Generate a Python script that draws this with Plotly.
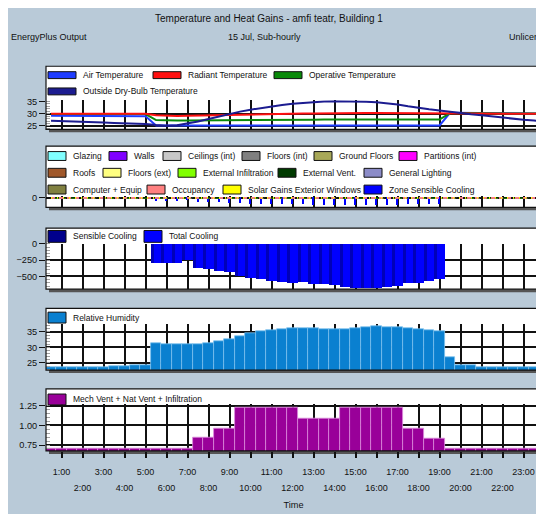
import plotly.graph_objects as go

W, H = 544, 514

# ---------------- data ----------------
time_h = [i / 2 for i in range(1, 49)]  # 0:30 ... 24:00 (sub-hourly, 2 per hour)
hour_ticks = list(range(1, 24))
hour_labels = [f"{h}:00" for h in hour_ticks]

temp_names = ["Air Temperature", "Radiant Temperature", "Operative Temperature",
              "Outside Dry-Bulb Temperature"]
air_temperature = [29.1, 29.1, 29.0, 29.0, 29.0, 29.0, 28.9, 28.9, 28.9, 28.9,
                   25.2, 25.2, 25.2, 25.2, 25.2, 25.2, 25.2, 25.2, 25.2, 25.2,
                   25.2, 25.2, 25.2, 25.2, 25.2, 25.2, 25.2, 25.2, 25.2, 25.2,
                   25.2, 25.2, 25.2, 25.2, 25.2, 25.2, 25.2, 25.2,
                   30.3, 30.3, 30.2, 30.2, 30.2, 30.1, 30.1, 30.1, 30.0, 30.0]
radiant_temperature = [29.9, 29.9, 29.9, 29.9, 29.9, 29.9, 29.9, 29.9, 29.9, 29.9,
                       29.3, 29.1, 29.0, 29.1, 29.2, 29.3, 29.4, 29.5, 29.6, 29.7,
                       29.8, 29.8, 29.9, 29.9, 30.0, 30.0, 30.1, 30.1, 30.1, 30.2,
                       30.2, 30.2, 30.2, 30.1, 30.1, 30.1, 30.0, 30.0,
                       30.0, 30.0, 30.0, 29.9, 29.9, 29.9, 29.9, 29.9, 29.9, 29.9]
operative_temperature = [29.8, 29.8, 29.8, 29.8, 29.8, 29.8, 29.8, 29.8, 29.8, 29.8,
                         27.4, 27.2, 27.2, 27.2, 27.2, 27.3, 27.3, 27.3, 27.4, 27.4,
                         27.4, 27.5, 27.5, 27.5, 27.5, 27.5, 27.6, 27.6, 27.6, 27.6,
                         27.6, 27.6, 27.6, 27.6, 27.6, 27.6, 27.6, 27.6,
                         30.2, 30.2, 30.2, 30.1, 30.1, 30.1, 30.0, 30.0, 30.0, 30.0]
outside_drybulb = [27.1, 27.0, 26.8, 26.7, 26.5, 26.4, 26.2, 26.1, 26.0, 25.8,
                   25.4, 25.1, 25.3, 25.9, 26.8, 27.8, 28.9, 29.9, 30.8, 31.6,
                   32.3, 32.9, 33.5, 34.0, 34.4, 34.7, 34.9, 35.0, 35.0, 35.0,
                   34.8, 34.6, 34.2, 33.7, 33.0, 32.3, 31.8, 31.3,
                   30.7, 30.2, 29.7, 29.3, 28.8, 28.3, 27.9, 27.5, 27.2, 26.9]

gain_names = ["Glazing", "Walls", "Ceilings (int)", "Floors (int)", "Ground Floors",
              "Partitions (int)", "Roofs", "Floors (ext)", "External Infiltration",
              "External Vent.", "General Lighting", "Computer + Equip", "Occupancy",
              "Solar Gains Exterior Windows", "Zone Sensible Cooling"]
zero_gain = [0.0] * 48   # all fabric / internal gains read as ~0 on this scale
zone_sensible_cooling = [0, 0, 0, 0, 0, 0, 0, 0, 0, 0,
                         -293, -293, -293, -252, -362, -387, -422, -437, -488, -516,
                         -543, -566, -584, -596, -588, -610, -620, -636, -658, -670,
                         -672, -670, -660, -646, -598, -594, -570, -545,
                         0, 0, 0, 0, 0, 0, 0, 0, 0, 0]

cooling_names = ["Sensible Cooling", "Total Cooling"]
sensible_cooling = [0, 0, 0, 0, 0, 0, 0, 0, 0, 0,
                    -293, -293, -293, -252, -362, -387, -422, -437, -488, -516,
                    -543, -566, -584, -596, -588, -610, -620, -636, -658, -670,
                    -672, -670, -660, -646, -598, -594, -570, -545,
                    0, 0, 0, 0, 0, 0, 0, 0, 0, 0]
total_cooling = [0, 0, 0, 0, 0, 0, 0, 0, 0, 0,
                 -293, -293, -293, -252, -362, -387, -422, -437, -488, -516,
                 -543, -566, -584, -596, -588, -610, -620, -636, -658, -670,
                 -672, -670, -660, -646, -598, -594, -570, -545,
                 0, 0, 0, 0, 0, 0, 0, 0, 0, 0]

rh_name = "Relative Humidity"
relative_humidity = [23.5, 23.5, 23.5, 23.5, 23.6, 23.6, 23.8, 23.9, 24.2, 24.4,
                     31.5, 31.2, 31.2, 31.2, 31.2, 31.5, 31.9, 32.6, 33.6, 34.6,
                     35.2, 35.6, 35.9, 36.3, 36.1, 36.1, 35.9, 35.8, 35.9, 36.3,
                     36.5, 36.7, 36.6, 36.5, 36.2, 36.0, 35.6, 35.3,
                     27.0, 24.4, 24.3, 23.7, 23.6, 23.6, 23.6, 23.6, 23.6, 23.6]

vent_name = "Mech Vent + Nat Vent + Infiltration"
ventilation = [0.71, 0.71, 0.71, 0.71, 0.71, 0.71, 0.71, 0.71, 0.71, 0.71,
               0.70, 0.70, 0.70, 0.70, 0.84, 0.84, 0.96, 0.96,
               1.23, 1.23, 1.23, 1.23, 1.23, 1.23,
               1.09, 1.09, 1.09, 1.09,
               1.23, 1.23, 1.23, 1.23, 1.23, 1.23,
               0.96, 0.96, 0.83, 0.83,
               0.71, 0.71, 0.71, 0.71, 0.71, 0.71, 0.71, 0.71, 0.71, 0.71]

# ---------------- styles ----------------
FONT = "Liberation Sans, Arial, sans-serif"
TXT = 8.5
BG = "#b9cad8"
temp_colors = ["#1e3cff", "#ff1010", "#0a8a0a", "#1c1c90"]
gain_colors = ["#80ffff", "#8000ff", "#c8c8c8", "#808080", "#a8a858", "#ff00ff",
               "#a0582a", "#ffff80", "#80ff00", "#003a00", "#8c8cc8", "#808040",
               "#ff8080", "#ffff00", "#0000ff"]
cooling_colors = ["#00008c", "#0000ff"]
rh_color = "#0a80d0"
vent_color = "#990099"

# page coordinates (the page body adds an 8 px margin around the figure)
OFF = 8
X0, X1 = 46, 541                # plot left/right in page px
panels = [  # frame top, plot top, plot bottom (page px)
    (62, 96.5, 126),
    (143, 194, 205),
    (226, 242, 288),
    (307.5, 323.5, 370),
    (389, 404, 452),
]
XR = [0.26, 23.83]


def fx(px):
    return (px - OFF) / W


def fy(py):
    return 1 - (py - OFF) / H


fig = go.Figure()

# panel 1: temperatures
series1 = [air_temperature, radiant_temperature, operative_temperature, outside_drybulb]
for i in [0, 2, 1, 3]:
    fig.add_trace(go.Scatter(x=time_h, y=series1[i], mode="lines", name=temp_names[i],
                             line=dict(color=temp_colors[i], width=2),
                             xaxis="x", yaxis="y", showlegend=False))

# panel 2: heat gains
dashes = ["dot", "dash", "dashdot", "3px,5px", "2px,6px", "4px,4px", "1px,5px"]
for k, (name, col) in enumerate(zip(gain_names[:-1], gain_colors[:-1])):
    fig.add_trace(go.Scatter(x=time_h, y=zero_gain, mode="lines", name=name,
                             line=dict(color=col, width=1.6, dash=dashes[k % len(dashes)]),
                             xaxis="x2", yaxis="y2", showlegend=False))
fig.add_trace(go.Bar(x=time_h, y=zone_sensible_cooling, name=gain_names[-1],
                     marker=dict(color=gain_colors[-1], line=dict(width=0)), width=0.08,
                     xaxis="x2", yaxis="y2", showlegend=False))

# panel 3: cooling
fig.add_trace(go.Bar(x=time_h, y=total_cooling, name=cooling_names[1],
                     marker=dict(color=cooling_colors[1], line=dict(width=0)), width=0.5,
                     xaxis="x3", yaxis="y3", showlegend=False))
fig.add_trace(go.Bar(x=time_h, y=sensible_cooling, name=cooling_names[0],
                     marker=dict(color="#0000b8", line=dict(width=0)), width=0.14, offset=-0.25,
                     xaxis="x3", yaxis="y3", showlegend=False))

# panel 4: relative humidity
fig.add_trace(go.Bar(x=time_h, y=relative_humidity, name=rh_name, base=0,
                     marker=dict(color=rh_color, line=dict(color="#7cc0ee", width=0.8)), width=0.5,
                     xaxis="x4", yaxis="y4", showlegend=False))

# panel 5: ventilation
fig.add_trace(go.Bar(x=time_h, y=ventilation, name=vent_name, base=0,
                     marker=dict(color=vent_color, line=dict(color="#dc8adc", width=0.8)), width=0.5,
                     xaxis="x5", yaxis="y5", showlegend=False))

# ---------------- axes ----------------
layout = dict(
    width=W, height=H, margin=dict(l=0, r=0, t=0, b=0),
    paper_bgcolor=BG, plot_bgcolor="rgba(0,0,0,0)",
    barmode="overlay", bargap=0, font=dict(family=FONT, size=TXT, color="#111"),
)
ycfg = [
    dict(range=[23.6, 35.4], tickvals=[25, 30, 35], minor=dict(dtick=1)),
    dict(range=[-800, 120], tickvals=[0], minor=None),
    dict(range=[-697, 0], tickvals=[0, -250, -500], minor=dict(dtick=50)),
    dict(range=[22.7, 37.5], tickvals=[25, 30, 35], minor=dict(dtick=1)),
    dict(range=[0.675, 1.275], tickvals=[0.75, 1.0, 1.25], ticktext=["0.75", "1.00", "1.25"],
         minor=dict(dtick=0.05)),
]
even_ticks = [h for h in hour_ticks if h % 2 == 0]
even_labels = [lab for h, lab in zip(hour_ticks, hour_labels) if h % 2 == 0]

for i, (ft, pt, pb) in enumerate(panels):
    sfx = "" if i == 0 else str(i + 1)
    xa = dict(domain=[fx(X0), fx(X1)], range=XR, anchor="y" + sfx,
              tickvals=hour_ticks, showgrid=True, gridcolor="#111", gridwidth=1.5,
              zeroline=False, showline=False, showticklabels=False, ticks="",
              fixedrange=True)
    if i > 0:
        xa["matches"] = "x"
    if i == 4:
        xa.update(showticklabels=True, ticks="outside", ticklen=6, tickwidth=1.5,
                  tickcolor="#111", tickangle=0, tickvals=hour_ticks,
                  ticktext=[lab if h % 2 == 1 else "" for h, lab in zip(hour_ticks, hour_labels)],
                  tickfont=dict(size=9), ticklabelstandoff=6)
    c = ycfg[i]
    ya = dict(domain=[fy(pb), fy(pt)], range=c["range"], anchor="x" + sfx,
              tickvals=c["tickvals"], showgrid=True, gridcolor="#111", gridwidth=1.5,
              zeroline=False, showline=False, ticks="outside", ticklen=6, tickwidth=1.2,
              tickcolor="#111", tickfont=dict(size=9.2), fixedrange=True)
    if "ticktext" in c:
        ya["ticktext"] = c["ticktext"]
    if c["minor"]:
        ya["minor"] = dict(dtick=c["minor"]["dtick"], ticks="inside", ticklen=4,
                           tickcolor="#a0a0a0", tickwidth=1, showgrid=False)
    layout["xaxis" + sfx] = xa
    layout["yaxis" + sfx] = ya

# second row of staggered hour labels + axis title
layout["xaxis6"] = dict(overlaying="x5", anchor="y5", side="bottom", range=XR, matches="x",
                        tickvals=even_ticks, ticktext=even_labels, tickangle=0,
                        showgrid=False, zeroline=False, showline=False, ticks="",
                        tickfont=dict(size=9), ticklabelstandoff=30, fixedrange=True,
                        title=dict(text="Time", standoff=9, font=dict(size=9.2)))
fig.add_trace(go.Scatter(x=[None], y=[None], xaxis="x6", yaxis="y5", showlegend=False,
                         hoverinfo="skip"))

# ---------------- frames ----------------
shapes = []
for ft, pt, pb in panels:
    shapes.append(dict(type="rect", xref="paper", yref="paper",
                       x0=fx(X0 + 3), x1=fx(X1 + 3), y0=fy(pb + 3), y1=fy(ft + 3),
                       fillcolor="#555555", line=dict(width=0), layer="below"))
    shapes.append(dict(type="rect", xref="paper", yref="paper",
                       x0=fx(X0), x1=fx(X1), y0=fy(pb), y1=fy(ft),
                       fillcolor="white", line=dict(width=0), layer="below"))
    shapes.append(dict(type="rect", xref="paper", yref="paper",
                       x0=fx(X0), x1=fx(X1), y0=fy(pb), y1=fy(ft),
                       fillcolor="rgba(0,0,0,0)", line=dict(color="#111", width=1.2),
                       layer="above"))

annotations = []


def add_text(x, y, text, anchor="left", size=TXT):
    annotations.append(dict(xref="paper", yref="paper", x=fx(x), y=fy(y), text=text,
                            showarrow=False, xanchor=anchor, yanchor="middle",
                            font=dict(size=size, family=FONT, color="#111")))


# legends (box + label); box positions
legend_rows = [
    # (row centre y, box w, box h, [(box x, name, colour), ...])
    (71, 28, 7, [(48, temp_names[0], temp_colors[0]), (153, temp_names[1], temp_colors[1]),
                 (274, temp_names[2], temp_colors[2])]),
    (87.5, 28, 7, [(48, temp_names[3], temp_colors[3])]),
    (153, 18, 9, list(zip([48, 109, 163, 242, 314, 399], gain_names[0:6], gain_colors[0:6]))),
    (170, 18, 9, list(zip([48, 103, 178, 278, 364], gain_names[6:11], gain_colors[6:11]))),
    (187, 18, 9, list(zip([48, 147, 223, 364], gain_names[11:15], gain_colors[11:15]))),
    (234.5, 18, 12, list(zip([48, 144], cooling_names, cooling_colors))),
    (316.8, 18, 11, [(48, rh_name, rh_color)]),
    (399.8, 18, 11, [(48, vent_name, vent_color)]),
]
for yc, bw, bh, items in legend_rows:
    for bx, name, col in items:
        shapes.append(dict(type="rect", xref="paper", yref="paper",
                           x0=fx(bx), x1=fx(bx + bw), y0=fy(yc + bh / 2), y1=fy(yc - bh / 2),
                           fillcolor=col, line=dict(color="#111", width=1), layer="above"))
        add_text(bx + bw + 5, yc, name)

# header texts
add_text(269, 13.5, "Temperature and Heat Gains - amfi teatr, Building 1", "center", 10)
add_text(8.5, 32.5, "EnergyPlus Output", "left", 9)
add_text(264, 32.5, "15 Jul, Sub-hourly", "center", 9)
add_text(507, 32.5, "Unlicensed", "left", 9)

layout["shapes"] = shapes
layout["annotations"] = annotations
fig.update_layout(**layout)
fig.write_html("out.html")
